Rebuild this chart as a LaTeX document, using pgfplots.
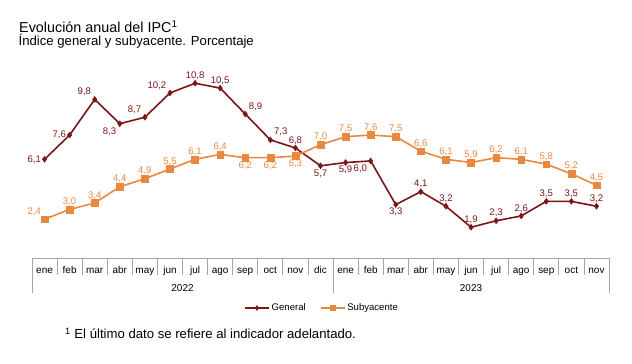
\documentclass[border=0pt]{standalone}
\usepackage{fontspec}
\setmainfont{Liberation Sans}
\usepackage{pgfplots}
\pgfplotsset{compat=1.18}
\definecolor{gen}{HTML}{7A1518}
\definecolor{sub}{HTML}{E8893F}
\definecolor{sepc}{HTML}{A6A6A6}

\pgfplotsset{
  lbl/.style={only marks, mark=none, forget plot, point meta=y,
    nodes near coords,
    every node near coord/.append style={font=\fontsize{9.6}{11}\selectfont, inner sep=3.5bp, text=#1}},
}

\begin{document}
\begin{tikzpicture}[x=1bp,y=1bp]
\path[use as bounding box] (0,0) rectangle (632,363);
\node[anchor=base west, inner sep=0pt, font=\fontsize{14.4}{17}\selectfont] at (19,330.3) {Evolución anual del IPC\textsuperscript{1}};
\node[anchor=base west, inner sep=0pt, font=\fontsize{13.2}{15}\selectfont] at (18.5,317.3) {Índice general y subyacente. Porcentaje};
\node[anchor=base west, inner sep=0pt, font=\fontsize{13.2}{15}\selectfont] at (65,24.3) {\textsuperscript{1} El último dato se refiere al indicador adelantado.};
\begin{axis}[
  at={(32bp,105bp)}, anchor=south west,
  scale only axis, width=577bp, height=194.16bp,
  xmin=-0.5, xmax=22.5, ymin=0, ymax=12,
  clip=false,
  axis line style={draw=none},
  ytick=\empty,
  xtick={0,...,22},
  xticklabels={ene,feb,mar,abr,may,jun,jul,ago,sep,oct,nov,dic,ene,feb,mar,abr,may,jun,jul,ago,sep,oct,nov},
  major tick length=0pt,
  xtick style={draw=none},
  xticklabel style={anchor=base, yshift=-15bp, font=\fontsize{10}{12}\selectfont, inner sep=0pt},
  /pgf/number format/fixed,
  /pgf/number format/fixed zerofill,
  /pgf/number format/precision=1,
  /pgf/number format/use comma,
  /pgf/number format/assume math mode=true,
  legend style={at={(0.5026,-0.2575)}, anchor=center, draw=none, fill=none,
    legend columns=2, font=\fontsize{9.6}{11}\selectfont,
    /tikz/every even column/.append style={column sep=12bp}},
  legend cell align=left,
  legend image code/.code={\draw[mark repeat=2,mark phase=2] plot coordinates {(0bp,0bp) (12bp,0bp) (24bp,0bp)};},
]
% category box
\draw[sepc, line width=0.8bp] (axis cs:-0.5,0) -- (axis cs:22.5,0);
\pgfplotsinvokeforeach{0.5,1.5,2.5,3.5,4.5,5.5,6.5,7.5,8.5,9.5,10.5,12.5,13.5,14.5,15.5,16.5,17.5,18.5,19.5,20.5,21.5}{
  \draw[sepc, line width=0.8bp] (axis cs:#1,0) -- (axis cs:#1,-1.05);
}
\pgfplotsinvokeforeach{-0.5,11.5,22.5}{
  \draw[sepc, line width=0.8bp] (axis cs:#1,0) -- (axis cs:#1,-2.16);
}
\node[anchor=base, inner sep=0pt, font=\fontsize{10}{12}\selectfont] at (axis cs:5.5,-2.04) {2022};
\node[anchor=base, inner sep=0pt, font=\fontsize{10}{12}\selectfont] at (axis cs:17,-2.04) {2023};

% General
\addplot[gen, line width=1.6bp, mark=diamond*, mark size=3bp, mark options={fill=gen, draw=gen, line width=0.4bp}, forget plot]
  coordinates {(0,6.1) (1,7.6) (2,9.8) (3,8.3) (4,8.7) (5,10.2) (6,10.8) (7,10.5) (8,8.9) (9,7.3) (10,6.8) (11,5.7)
   (12,5.9) (13,6.0) (14,3.3) (15,4.1) (16,3.2) (17,1.9) (18,2.3) (19,2.6) (20,3.5) (21,3.5) (22,3.2)};
% Subyacente
\addplot[sub, line width=1.6bp, mark=square*, mark size=3.4bp, mark options={fill=sub, draw=sub, line width=0.4bp}, forget plot]
  coordinates {(0,2.4) (1,3.0) (2,3.4) (3,4.4) (4,4.9) (5,5.5) (6,6.1) (7,6.4) (8,6.2) (9,6.2) (10,6.3) (11,7.0)
   (12,7.5) (13,7.6) (14,7.5) (15,6.6) (16,6.1) (17,5.9) (18,6.2) (19,6.1) (20,5.8) (21,5.2) (22,4.5)};

% General labels
\addplot[lbl=gen, every node near coord/.append style={anchor=east}] coordinates {(0,6.1) (1,7.6)};
\addplot[lbl=gen, every node near coord/.append style={anchor=south east}] coordinates {(2,9.8) (4,8.7) (5,10.2)};
\addplot[lbl=gen, every node near coord/.append style={anchor=north east}] coordinates {(3,8.3) (13,6.0)};
\addplot[lbl=gen, every node near coord/.append style={anchor=south}] coordinates {(6,10.8) (7,10.5) (10,6.8) (15,4.1) (16,3.2) (17,1.9) (18,2.3) (19,2.6) (20,3.5) (21,3.5) (22,3.2)};
\addplot[lbl=gen, every node near coord/.append style={anchor=south west}] coordinates {(8,8.9) (9,7.3)};
\addplot[lbl=gen, every node near coord/.append style={anchor=north}] coordinates {(11,5.7) (14,3.3) (12,5.9)};
% Subyacente labels
\addplot[lbl=sub, every node near coord/.append style={anchor=south east}] coordinates {(0,2.4)};
\addplot[lbl=sub, every node near coord/.append style={anchor=north}] coordinates {(8,6.2) (9,6.2) (10,6.3)};
\addplot[lbl=sub, every node near coord/.append style={anchor=south}] coordinates {(1,3.0) (2,3.4) (3,4.4) (4,4.9) (5,5.5) (6,6.1) (7,6.4) (11,7.0)
   (12,7.5) (13,7.6) (14,7.5) (15,6.6) (16,6.1) (17,5.9) (18,6.2) (19,6.1) (20,5.8) (21,5.2) (22,4.5)};

\addlegendimage{gen, line width=1.6bp, mark=diamond*, mark size=2.5bp, mark options={fill=gen, draw=gen, line width=0.4bp}}
\addlegendentry{General}
\addlegendimage{sub, line width=1.6bp, mark=square*, mark size=2.6bp, mark options={fill=sub, draw=sub, line width=0.4bp}}
\addlegendentry{Subyacente}
\end{axis}
\end{tikzpicture}
\end{document}
